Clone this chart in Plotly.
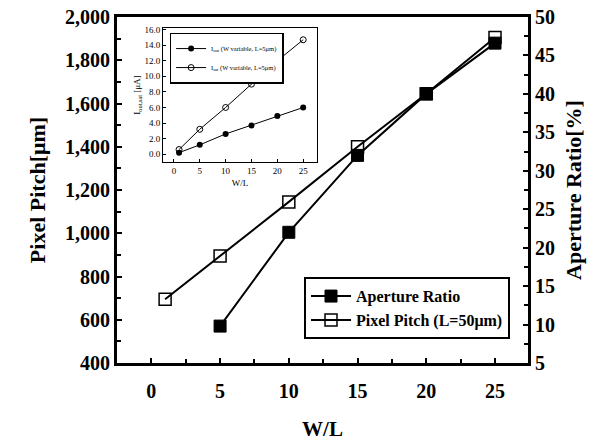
import plotly.graph_objects as go

# ---- main chart data ----
wl_pitch = [1, 5, 10, 15, 20, 25]
pixel_pitch = [695, 895, 1145, 1400, 1645, 1905]
wl_ar = [5, 10, 15, 20, 25]
aperture_ratio = [9.8, 22.0, 32.0, 40.0, 46.6]

# ---- inset data ----
inset_wl = [1, 5, 10, 15, 20, 25]
inset_filled = [0.2, 1.2, 2.6, 3.7, 4.9, 6.0]
inset_open = [0.6, 3.2, 6.0, 9.0, 12.0, 14.7]

left_ticks = [400, 600, 800, 1000, 1200, 1400, 1600, 1800, 2000]
right_ticks = [5, 10, 15, 20, 25, 30, 35, 40, 45, 50]
x_ticks = [0, 5, 10, 15, 20, 25]
inset_yticks = [0, 2, 4, 6, 8, 10, 12, 14, 16]

SERIF = "Liberation Serif"
bold = dict(family=SERIF, color="black", weight=700)

fig = go.Figure()

fig.add_trace(go.Scatter(
    x=wl_ar, y=aperture_ratio, yaxis="y2", name="Aperture Ratio",
    mode="lines+markers",
    line=dict(color="black", width=2),
    marker=dict(symbol="square", size=12, color="black", line=dict(color="black", width=1)),
    legend="legend",
))
fig.add_trace(go.Scatter(
    x=wl_pitch, y=pixel_pitch, yaxis="y", name="Pixel Pitch (L=50μm)",
    mode="lines+markers",
    line=dict(color="black", width=2),
    marker=dict(symbol="square-open", size=12, color="black", line=dict(color="black", width=1.5)),
    legend="legend",
))

# inset traces
fig.add_trace(go.Scatter(
    x=inset_wl, y=inset_filled, xaxis="x2", yaxis="y3",
    name="I<sub>out</sub> (W variable, L=5μm)",
    mode="lines+markers",
    line=dict(color="black", width=1),
    marker=dict(symbol="circle", size=6, color="black"),
    legend="legend2",
))
fig.add_trace(go.Scatter(
    x=inset_wl, y=inset_open, xaxis="x2", yaxis="y3",
    name="I<sub>sat</sub> (W variable, L=5μm)",
    mode="lines+markers",
    line=dict(color="black", width=1),
    marker=dict(symbol="circle-open", size=6, color="black", line=dict(width=1)),
    legend="legend2",
))

axis_common = dict(showline=True, linecolor="black", linewidth=3, ticks="inside",
                   tickcolor="black", tickwidth=2, ticklen=5, showgrid=False, zeroline=False,
                   automargin=False)

fig.update_layout(
    width=600, height=441,
    margin=dict(l=117, r=72, t=17, b=78),
    paper_bgcolor="white", plot_bgcolor="white",
    xaxis=dict(**axis_common, range=[-2.5, 27.4], tickvals=x_ticks, mirror=True,
               minor=dict(dtick=2.5, tick0=0, ticks="inside", ticklen=4, tickcolor="black", tickwidth=2),
               tickfont=dict(size=20, **bold), ticklabelstandoff=8,
               title=dict(text="W/L", font=dict(size=21, **bold), standoff=26)),
    yaxis=dict(**axis_common, range=[400, 2000], tickvals=left_ticks, tickformat=",d",
               minor=dict(dtick=100, tick0=0, ticks="inside", ticklen=4, tickcolor="black", tickwidth=2),
               tickfont=dict(size=20, **bold),
               title=dict(text="Pixel Pitch[μm]", font=dict(size=22, **bold), standoff=14)),
    yaxis2=dict(**axis_common, overlaying="y", side="right", range=[5, 50], tickvals=right_ticks,
                minor=dict(dtick=2.5, tick0=0, ticks="inside", ticklen=4, tickcolor="black", tickwidth=2),
                tickfont=dict(size=20, **bold),
                title=dict(text="Aperture Ratio[%]", font=dict(size=22, **bold), standoff=12)),
    xaxis2=dict(domain=[0.112, 0.487], anchor="y3", range=[-2.1, 27.7], tickvals=x_ticks,
                showline=True, linecolor="black", linewidth=1, mirror=True, ticks="inside",
                ticklen=3, tickcolor="black", showgrid=False, zeroline=False,
                tickfont=dict(size=9, family=SERIF, color="black"),
                title=dict(text="W/L", font=dict(size=9, family=SERIF, color="black"), standoff=4)),
    yaxis3=dict(domain=[0.581, 0.968], anchor="x2", range=[-1.0, 16.2], tickvals=inset_yticks,
                tickformat=".1f",
                showline=True, linecolor="black", linewidth=1, mirror=True, ticks="inside",
                ticklen=3, tickcolor="black", showgrid=False, zeroline=False,
                tickfont=dict(size=9, family=SERIF, color="black"),
                title=dict(text="I<sub>out,sat</sub> [μA]", font=dict(size=9, family=SERIF, color="black"), standoff=2)),
    legend=dict(x=0.455, y=0.248, xanchor="left", yanchor="top",
                bgcolor="white", bordercolor="black", borderwidth=2,
                font=dict(size=16, **bold), tracegroupgap=2, itemwidth=40),
    legend2=dict(x=0.128, y=0.955, xanchor="left", yanchor="top",
                 bgcolor="white", bordercolor="black", borderwidth=1.5,
                 font=dict(size=6.5, family=SERIF, color="black"), tracegroupgap=0, itemwidth=30),
    showlegend=True,
)

fig.write_html("out.html")
